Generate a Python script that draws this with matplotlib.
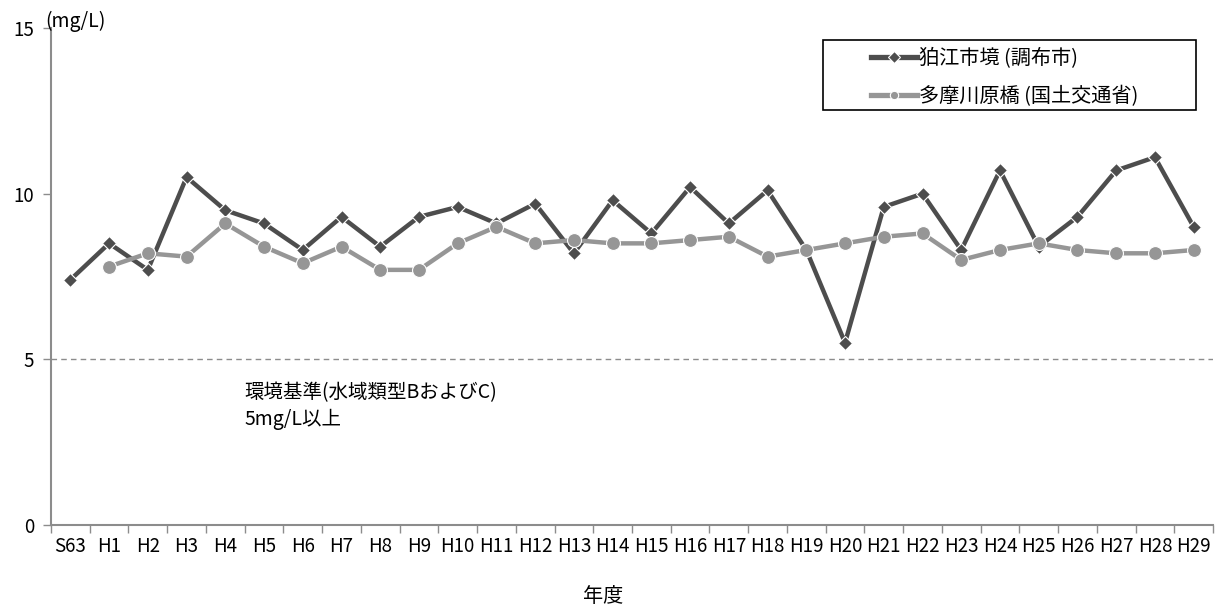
import matplotlib
matplotlib.use("Agg")
import matplotlib.pyplot as plt
from matplotlib.patches import Rectangle
import numpy as np

plt.rcParams['font.family'] = ['Noto Sans CJK JP', 'DejaVu Sans']

# === Data ===
years = ["S63", "H1", "H2", "H3", "H4", "H5", "H6", "H7", "H8", "H9",
         "H10", "H11", "H12", "H13", "H14", "H15", "H16", "H17", "H18", "H19",
         "H20", "H21", "H22", "H23", "H24", "H25", "H26", "H27", "H28", "H29"]
komae = [7.4, 8.5, 7.7, 10.5, 9.5, 9.1, 8.3, 9.3, 8.4, 9.3,
         9.6, 9.1, 9.7, 8.2, 9.8, 8.8, 10.2, 9.1, 10.1, 8.3,
         5.5, 9.6, 10.0, 8.3, 10.7, 8.4, 9.3, 10.7, 11.1, 9.0]
tamagawa = [np.nan, 7.8, 8.2, 8.1, 9.1, 8.4, 7.9, 8.4, 7.7, 7.7,
            8.5, 9.0, 8.5, 8.6, 8.5, 8.5, 8.6, 8.7, 8.1, 8.3,
            8.5, 8.7, 8.8, 8.0, 8.3, 8.5, 8.3, 8.2, 8.2, 8.3]
standard = 5

x = np.arange(len(years))
W, H = 1222, 611

fig = plt.figure(figsize=(W / 100, H / 100), dpi=100)
ax = fig.add_axes([51 / W, 86 / H, 1162 / W, 497 / H])

ax.axhline(standard, color="#8c8c8c", lw=1, ls=(0, (4, 3)), zorder=1)

ax.plot(x, komae, color="#4d4d4d", lw=3.2, marker="D", ms=7,
        mec="white", mew=0.8, label="狛江市境 (調布市)", zorder=3)
ax.plot(x, tamagawa, color="#969696", lw=3.2, marker="o", ms=10,
        mec="white", mew=0.8, label="多摩川原橋 (国土交通省)", zorder=4)

ax.set_xlim(-0.5, len(years) - 0.5)
ax.set_ylim(0, 15)
ax.set_yticks([0, 5, 10, 15])
ax.set_xticks(x)
ax.set_xticklabels(years, fontsize=13.5)
ax.set_xticks(np.arange(-0.5, len(years)), minor=True)
ax.tick_params(axis="x", which="major", length=0, pad=8)
ax.tick_params(axis="x", which="minor", length=6, color="#8c8c8c", width=1)
ax.tick_params(axis="y", length=6, color="#8c8c8c", width=1, labelsize=13.5, pad=6)

for s in ("top", "right"):
    ax.spines[s].set_visible(False)
for s in ("left", "bottom"):
    ax.spines[s].set_color("#8c8c8c")
    ax.spines[s].set_linewidth(1.5)

fig.text(45 / W, 1 - 21 / H, "(mg/L)", fontsize=14, ha="left", va="center")
fig.text(603 / W, 1 - 597 / H, "年度", fontsize=14.5, ha="center", va="center")

ax.text(4.5, 4.3, "環境基準(水域類型BおよびC)\n5mg/L以上", fontsize=14,
        ha="left", va="top", linespacing=1.35)

# legend box drawn as a plain rectangle, entries placed inside it
fig.patches.append(Rectangle((823 / W, 1 - 110 / H), 373 / W, 70 / H,
                             transform=fig.transFigure, fill=False,
                             edgecolor="black", lw=1.2))
leg = fig.legend(loc="upper left", bbox_to_anchor=(865 / W, 1 - 42 / H),
                 fontsize=14.5, frameon=False, handlelength=2.3,
                 borderpad=0.3, labelspacing=0.85, handletextpad=0.1,
                 borderaxespad=0)
for h in leg.legend_handles:
    h.set_markersize(6)
    h.set_linewidth(3.8)

fig.savefig("out.png", dpi=100)
